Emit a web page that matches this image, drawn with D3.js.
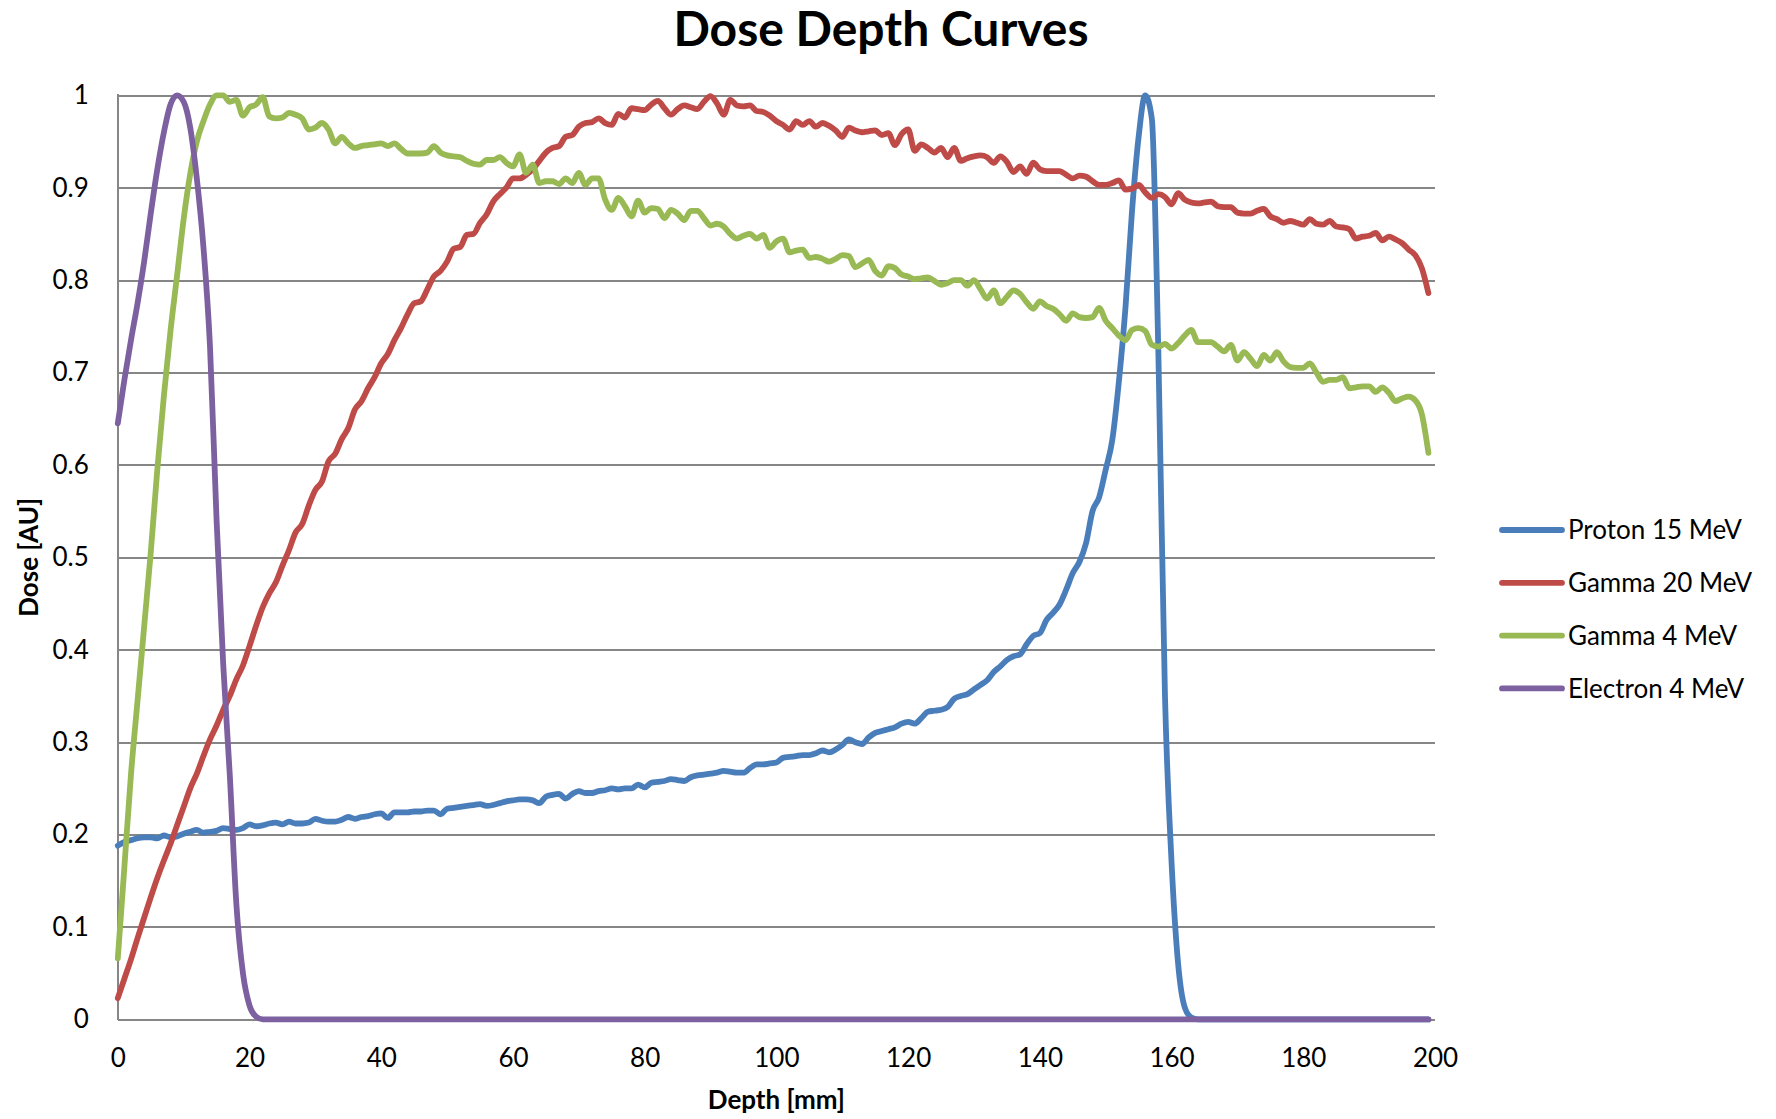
<!DOCTYPE html>
<html>

<head>
  <meta charset="utf-8">
  <title>Dose Depth Curves</title>
  <script src="https://cdn.jsdelivr.net/npm/d3@7/dist/d3.min.js"></script>
</head>
<style type="text/css">
  html,
  body {
    margin: 0;
    padding: 0;
    overflow: hidden;
    background-color: #ffffff;
  }

  svg {
    display: block;
  }

  text {
    font-family: Lato, "Open Sans", sans-serif;
    fill: #000000;
  }

  .grid_line line {
    stroke: #868686;
    stroke-width: 2;
    shape-rendering: crispEdges;
  }

  .tick text {
    font-size: 26px;
  }

  .datacurve {
    fill: none;
    stroke-width: 5.8;
    stroke-linecap: round;
    stroke-linejoin: round;
  }
</style>

<body>
  <svg width="1776" height="1119" id="mainsvg"></svg>
  <script>

    const seriesNames = ["Proton 15 MeV", "Gamma 20 MeV", "Gamma 4 MeV", "Electron 4 MeV"];
    const seriesColors = ["#4A7EBB", "#BE4B48", "#98B954", "#7D60A0"];
    const xTicks = [0, 20, 40, 60, 80, 100, 120, 140, 160, 180, 200];
    const yTicks = [0, 0.1, 0.2, 0.3, 0.4, 0.5, 0.6, 0.7, 0.8, 0.9, 1];
    const yTickLabels = ["0", "0.1", "0.2", "0.3", "0.4", "0.5", "0.6", "0.7", "0.8", "0.9", "1"];

    // dose per 1 mm depth step (depth 0..199 mm)
    const proton15 = [
      0.188, 0.192, 0.194, 0.196, 0.197, 0.197, 0.196, 0.199, 0.197, 0.198,
      0.201, 0.203, 0.205, 0.202, 0.203, 0.204, 0.207, 0.206, 0.205, 0.207,
      0.211, 0.209, 0.210, 0.212, 0.213, 0.211, 0.214, 0.212, 0.212, 0.213,
      0.217, 0.215, 0.214, 0.214, 0.216, 0.219, 0.217, 0.219, 0.220, 0.222,
      0.223, 0.218, 0.224, 0.224, 0.224, 0.225, 0.225, 0.226, 0.226, 0.222,
      0.228, 0.229, 0.230, 0.231, 0.232, 0.233, 0.231, 0.232, 0.234, 0.236,
      0.237, 0.238, 0.238, 0.237, 0.234, 0.241, 0.243, 0.244, 0.239, 0.244,
      0.247, 0.245, 0.245, 0.247, 0.248, 0.250, 0.249, 0.250, 0.250, 0.254,
      0.251, 0.256, 0.257, 0.258, 0.260, 0.259, 0.258, 0.262, 0.264, 0.265,
      0.266, 0.267, 0.269, 0.268, 0.267, 0.267, 0.272, 0.276, 0.276, 0.277,
      0.278, 0.283, 0.284, 0.285, 0.286, 0.286, 0.288, 0.291, 0.289, 0.292,
      0.297, 0.303, 0.300, 0.298, 0.305, 0.310, 0.312, 0.314, 0.316, 0.320,
      0.322, 0.320, 0.326, 0.333, 0.334, 0.335, 0.338, 0.347, 0.350, 0.352,
      0.357, 0.362, 0.367, 0.376, 0.382, 0.389, 0.393, 0.395, 0.406, 0.415,
      0.418, 0.432, 0.440, 0.449, 0.465, 0.483, 0.495, 0.515, 0.550, 0.565,
      0.595, 0.627, 0.690, 0.770, 0.875, 0.955, 1.000, 0.975, 0.720, 0.350,
      0.170, 0.060, 0.013, 0.002, 0, 0, 0, 0, 0, 0,
      0, 0, 0, 0, 0, 0, 0, 0, 0, 0,
      0, 0, 0, 0, 0, 0, 0, 0, 0, 0,
      0, 0, 0, 0, 0, 0, 0, 0, 0, 0
    ];

    const gamma20 = [
      0.023, 0.044, 0.065, 0.088, 0.110, 0.132, 0.153, 0.172, 0.190, 0.210,
      0.230, 0.250, 0.266, 0.285, 0.303, 0.318, 0.335, 0.350, 0.368, 0.383,
      0.404, 0.426, 0.446, 0.461, 0.473, 0.491, 0.508, 0.527, 0.536, 0.556,
      0.573, 0.582, 0.604, 0.612, 0.628, 0.640, 0.660, 0.669, 0.683, 0.695,
      0.710, 0.720, 0.735, 0.748, 0.763, 0.775, 0.777, 0.790, 0.804, 0.810,
      0.820, 0.834, 0.836, 0.849, 0.850, 0.862, 0.871, 0.885, 0.893, 0.900,
      0.910, 0.910, 0.914, 0.920, 0.929, 0.938, 0.943, 0.945, 0.955, 0.957,
      0.966, 0.970, 0.971, 0.975, 0.970, 0.968, 0.980, 0.976, 0.986, 0.985,
      0.984, 0.990, 0.994, 0.986, 0.979, 0.985, 0.989, 0.987, 0.985, 0.993,
      0.999, 0.991, 0.979, 0.995, 0.989, 0.988, 0.989, 0.983, 0.982, 0.978,
      0.972, 0.968, 0.963, 0.972, 0.968, 0.972, 0.966, 0.970, 0.967, 0.962,
      0.955, 0.965, 0.962, 0.960, 0.961, 0.962, 0.957, 0.959, 0.946, 0.958,
      0.963, 0.940, 0.947, 0.943, 0.938, 0.943, 0.933, 0.943, 0.929, 0.932,
      0.934, 0.935, 0.933, 0.927, 0.934, 0.928, 0.917, 0.923, 0.915, 0.927,
      0.920, 0.918, 0.918, 0.918, 0.914, 0.910, 0.913, 0.912, 0.907, 0.903,
      0.903, 0.905, 0.908, 0.898, 0.899, 0.903, 0.895, 0.889, 0.893, 0.890,
      0.882, 0.894, 0.887, 0.884, 0.883, 0.884, 0.885, 0.880, 0.879, 0.879,
      0.873, 0.872, 0.872, 0.875, 0.877, 0.869, 0.866, 0.862, 0.864, 0.862,
      0.860, 0.866, 0.861, 0.860, 0.864, 0.858, 0.857, 0.855, 0.845, 0.847,
      0.848, 0.851, 0.843, 0.847, 0.844, 0.840, 0.833, 0.827, 0.813, 0.786
    ];

    const gamma4 = [
      0.066, 0.165, 0.265, 0.345, 0.425, 0.505, 0.595, 0.675, 0.745, 0.805,
      0.866, 0.915, 0.950, 0.972, 0.990, 1.000, 1.000, 0.993, 0.995, 0.978,
      0.987, 0.990, 0.998, 0.977, 0.975, 0.976, 0.981, 0.979, 0.975, 0.963,
      0.965, 0.970, 0.963, 0.948, 0.955, 0.948, 0.943, 0.945, 0.946, 0.947,
      0.948, 0.945, 0.948, 0.942, 0.937, 0.937, 0.937, 0.938, 0.945, 0.938,
      0.935, 0.934, 0.933, 0.929, 0.926, 0.925, 0.930, 0.930, 0.933, 0.927,
      0.923, 0.936, 0.916, 0.925, 0.905, 0.907, 0.907, 0.904, 0.910, 0.905,
      0.916, 0.903, 0.910, 0.910, 0.887, 0.876, 0.889, 0.880, 0.869, 0.886,
      0.873, 0.878, 0.877, 0.867, 0.876, 0.872, 0.865, 0.875, 0.875, 0.867,
      0.859, 0.861, 0.858, 0.850, 0.845, 0.848, 0.850, 0.845, 0.849, 0.835,
      0.842, 0.845, 0.830, 0.832, 0.833, 0.824, 0.825, 0.823, 0.820, 0.823,
      0.827, 0.826, 0.814, 0.818, 0.822, 0.810, 0.805, 0.815, 0.813, 0.806,
      0.804, 0.801, 0.802, 0.803, 0.799, 0.795, 0.797, 0.800, 0.800, 0.794,
      0.800, 0.790, 0.780, 0.789, 0.775, 0.782, 0.789, 0.785, 0.776, 0.769,
      0.777, 0.772, 0.769, 0.763, 0.756, 0.764, 0.760, 0.759, 0.760, 0.770,
      0.756, 0.748, 0.740, 0.735, 0.746, 0.748, 0.745, 0.730, 0.728, 0.731,
      0.726, 0.732, 0.740, 0.746, 0.733, 0.733, 0.733, 0.728, 0.723, 0.730,
      0.713, 0.722, 0.715, 0.707, 0.719, 0.713, 0.722, 0.712, 0.706, 0.705,
      0.705, 0.710, 0.700, 0.690, 0.692, 0.692, 0.695, 0.683, 0.684, 0.685,
      0.685, 0.679, 0.684, 0.678, 0.669, 0.672, 0.674, 0.670, 0.655, 0.613
    ];

    const electron4 = [
      0.645, 0.692, 0.735, 0.775, 0.820, 0.872, 0.920, 0.960, 0.990, 1.000,
      0.993, 0.965, 0.910, 0.836, 0.728, 0.540, 0.385, 0.265, 0.125, 0.050,
      0.015, 0.003, 0, 0, 0, 0, 0, 0, 0, 0,
      0, 0, 0, 0, 0, 0, 0, 0, 0, 0,
      0, 0, 0, 0, 0, 0, 0, 0, 0, 0,
      0, 0, 0, 0, 0, 0, 0, 0, 0, 0,
      0, 0, 0, 0, 0, 0, 0, 0, 0, 0,
      0, 0, 0, 0, 0, 0, 0, 0, 0, 0,
      0, 0, 0, 0, 0, 0, 0, 0, 0, 0,
      0, 0, 0, 0, 0, 0, 0, 0, 0, 0,
      0, 0, 0, 0, 0, 0, 0, 0, 0, 0,
      0, 0, 0, 0, 0, 0, 0, 0, 0, 0,
      0, 0, 0, 0, 0, 0, 0, 0, 0, 0,
      0, 0, 0, 0, 0, 0, 0, 0, 0, 0,
      0, 0, 0, 0, 0, 0, 0, 0, 0, 0,
      0, 0, 0, 0, 0, 0, 0, 0, 0, 0,
      0, 0, 0, 0, 0, 0, 0, 0, 0, 0,
      0, 0, 0, 0, 0, 0, 0, 0, 0, 0,
      0, 0, 0, 0, 0, 0, 0, 0, 0, 0,
      0, 0, 0, 0, 0, 0, 0, 0, 0, 0
    ];

    const seriesValues = [proton15, gamma20, gamma4, electron4];

    const svg = d3.select('#mainsvg');
    const width = +svg.attr('width');
    const height = +svg.attr('height');
    const margin = {
      top: 95.3,
      right: 341,
      bottom: 99.6,
      left: 117.8
    };
    const innerWidth = width - margin.left - margin.right;
    const innerHeight = height - margin.top - margin.bottom;

    const xScale = d3.scaleLinear()
      .domain([0, 200])
      .range([0, innerWidth]);
    const yScale = d3.scaleLinear()
      .domain([0, 1])
      .range([innerHeight, 0]);

    const g = svg.append('g').attr('id', 'maingroup')
      .attr('transform', `translate(${margin.left}, ${margin.top})`);

    // horizontal grid + y labels
    const yAxis = d3.axisLeft(yScale)
      .tickValues(yTicks)
      .tickFormat((d, i) => yTickLabels[i])
      .tickSize(-innerWidth)
      .tickPadding(29);
    const yAxisGroup = g.append('g')
      .attr('class', 'grid_line')
      .call(yAxis);
    yAxisGroup.select('.domain').remove();

    // x labels, no tick marks
    const xAxis = d3.axisBottom(xScale)
      .tickValues(xTicks)
      .tickSize(0)
      .tickPadding(29);
    const xAxisGroup = g.append('g')
      .attr('transform', `translate(0, ${innerHeight})`)
      .call(xAxis);
    xAxisGroup.select('.domain').remove();

    // left axis line
    g.append('line')
      .attr('x1', xScale(0)).attr('x2', xScale(0))
      .attr('y1', yScale(0) + 1).attr('y2', yScale(1) - 1)
      .attr('stroke', '#868686')
      .attr('stroke-width', 2)
      .style('shape-rendering', 'crispEdges');

    const Line = d3.line()
      .x((d, i) => xScale(i))
      .y(d => yScale(d))
      .curve(d3.curveMonotoneX);

    seriesValues.forEach((vals, k) => {
      g.append('path')
        .attr('class', 'datacurve')
        .attr('d', Line(vals))
        .style('stroke', seriesColors[k]);
    });

    // titles
    svg.append('text')
      .attr('x', 881)
      .attr('y', 46)
      .attr('text-anchor', 'middle')
      .style('font-size', '48px')
      .style('font-weight', 'bold')
      .text('Dose Depth Curves');

    svg.append('text')
      .attr('x', margin.left + innerWidth / 2)
      .attr('y', 1109)
      .attr('text-anchor', 'middle')
      .style('font-size', '26px')
      .style('font-weight', 'bold')
      .text('Depth [mm]');

    svg.append('text')
      .attr('transform', `translate(38, ${margin.top + innerHeight / 2})rotate(-90)`)
      .attr('text-anchor', 'middle')
      .style('font-size', '26px')
      .style('font-weight', 'bold')
      .text('Dose [AU]');

    // legend
    const legend = svg.append('g')
      .attr('transform', 'translate(1502, 530)');
    const items = legend.selectAll('g')
      .data(seriesNames)
      .enter()
      .append('g')
      .attr('transform', (d, i) => `translate(0, ${i * 52.8})`);
    items.append('line')
      .attr('x1', 0).attr('x2', 60)
      .attr('y1', 0).attr('y2', 0)
      .attr('stroke', (d, i) => seriesColors[i])
      .attr('stroke-width', 5.8)
      .attr('stroke-linecap', 'round');
    items.append('text')
      .attr('x', 66)
      .attr('dy', '0.36em')
      .style('font-size', '26px')
      .text(d => d);

  </script>
</body>

</html>
